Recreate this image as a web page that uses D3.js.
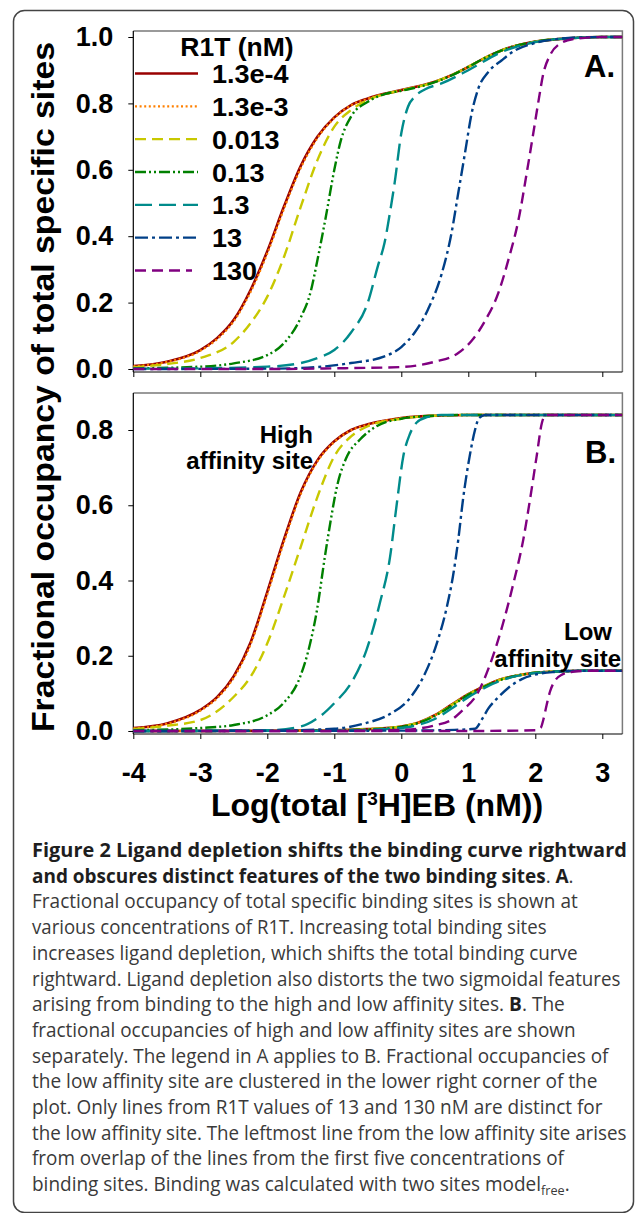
<!DOCTYPE html>
<html><head><meta charset="utf-8">
<script src="https://cdn.jsdelivr.net/npm/d3@7"></script>
<style>body{margin:0;background:#fff}svg{display:block}</style>
</head><body>
<svg id="chart" width="635" height="1213"></svg>
<script>
// ---------- DATA ----------
const seriesNames = ["1.3e-4","1.3e-3","0.013","0.13","1.3","13","130"];
const xTicks = [-4,-3,-2,-1,0,1,2,3];
const xTickLabels = ["-4","-3","-2","-1","0","1","2","3"];
const yTicksA = [0,0.2,0.4,0.6,0.8,1.0];
const yTicksB = [0,0.2,0.4,0.6,0.8];

// Panel A: total specific sites  [log(total EB), fraction]
const totR1 = [[-4,0.009],[-3.5,0.022],[-3,0.057],[-2.75,0.093],[-2.5,0.148],[-2.25,0.238],[-2,0.355],[-1.75,0.49],[-1.5,0.612],[-1.25,0.70],[-1,0.758],[-0.75,0.795],[-0.5,0.815],[0,0.84],[0.5,0.865],[0.75,0.885],[1,0.91],[1.25,0.937],[1.5,0.96],[2,0.986],[2.5,0.996],[3,1.0],[3.3,1.0]];
const totR2 = [[-4,0.008],[-3.5,0.021],[-3,0.055],[-2.75,0.09],[-2.5,0.144],[-2.25,0.232],[-2,0.348],[-1.75,0.483],[-1.5,0.606],[-1.25,0.696],[-1,0.756],[-0.75,0.794],[-0.5,0.814],[0,0.84],[0.5,0.865],[0.75,0.885],[1,0.91],[1.25,0.937],[1.5,0.96],[2,0.986],[2.5,0.996],[3,1.0],[3.3,1.0]];
const totR3 = [[-4,0.005],[-3.5,0.015],[-3,0.033],[-2.5,0.082],[-2.25,0.138],[-2,0.218],[-1.75,0.338],[-1.5,0.489],[-1.25,0.63],[-1,0.73],[-0.75,0.78],[-0.5,0.81],[-0.25,0.828],[0,0.839],[0.5,0.865],[0.75,0.885],[1,0.91],[1.25,0.937],[1.5,0.96],[2,0.986],[2.5,0.996],[3,1.0],[3.3,1.0]];
const totR4 = [[-4,0.002],[-3,0.007],[-2.5,0.017],[-2,0.042],[-1.75,0.078],[-1.5,0.155],[-1.35,0.235],[-1.25,0.33],[-1.125,0.46],[-1,0.60],[-0.9,0.69],[-0.75,0.76],[-0.5,0.805],[-0.25,0.828],[0,0.838],[0.5,0.864],[0.75,0.884],[1,0.91],[1.25,0.937],[1.5,0.96],[2,0.986],[2.5,0.996],[3,1.0],[3.3,1.0]];
const totR5 = [[-4,0.001],[-3,0.002],[-2,0.007],[-1.5,0.018],[-1.25,0.033],[-1,0.057],[-0.75,0.11],[-0.5,0.2],[-0.35,0.31],[-0.25,0.38],[-0.17,0.47],[-0.1,0.56],[0,0.71],[0.1,0.79],[0.2,0.82],[0.35,0.842],[0.6,0.86],[1,0.9],[1.5,0.955],[2,0.985],[2.5,0.996],[3,1.0],[3.3,1.0]];
const totR6 = [[-4,0],[-2,0.001],[-1.5,0.003],[-0.75,0.018],[-0.25,0.038],[0,0.066],[0.2,0.11],[0.4,0.18],[0.6,0.285],[0.75,0.41],[0.85,0.53],[0.95,0.65],[1.05,0.77],[1.15,0.845],[1.3,0.895],[1.5,0.93],[1.7,0.96],[2,0.982],[2.3,0.993],[2.7,0.999],[3.3,1.0]];
const totR7 = [[-4,0],[-2,0],[-1,0.002],[0,0.006],[0.5,0.022],[0.85,0.048],[1.05,0.085],[1.25,0.145],[1.45,0.23],[1.6,0.33],[1.75,0.45],[1.88,0.6],[1.97,0.71],[2.05,0.81],[2.12,0.89],[2.22,0.945],[2.37,0.98],[2.57,0.994],[3,1.0],[3.3,1.0]];

// Panel B: high affinity site
const highR1 = [[-4,0.008],[-3.5,0.02],[-3,0.056],[-2.75,0.09],[-2.5,0.146],[-2.25,0.235],[-2,0.37],[-1.75,0.51],[-1.5,0.635],[-1.25,0.72],[-1,0.77],[-0.75,0.80],[-0.5,0.815],[0,0.832],[0.5,0.838],[1,0.84],[3.3,0.84]];
const highR2 = [[-4,0.007],[-3.5,0.019],[-3,0.054],[-2.75,0.087],[-2.5,0.142],[-2.25,0.23],[-2,0.363],[-1.75,0.503],[-1.5,0.63],[-1.25,0.717],[-1,0.768],[-0.75,0.799],[-0.5,0.814],[0,0.832],[0.5,0.838],[1,0.84],[3.3,0.84]];
const highR3 = [[-4,0.005],[-3.5,0.014],[-3,0.029],[-2.5,0.091],[-2.25,0.144],[-2,0.233],[-1.75,0.357],[-1.5,0.49],[-1.25,0.623],[-1,0.73],[-0.75,0.783],[-0.5,0.81],[0,0.83],[0.5,0.838],[1,0.84],[3.3,0.84]];
const highR4 = [[-4,0.002],[-3,0.008],[-2.5,0.016],[-2,0.042],[-1.76,0.074],[-1.51,0.144],[-1.36,0.233],[-1.26,0.32],[-1.14,0.464],[-1.06,0.553],[-0.96,0.65],[-0.81,0.73],[-0.62,0.774],[-0.37,0.81],[0,0.83],[0.5,0.838],[1,0.84],[3.3,0.84]];
const highR5 = [[-4,0],[-2,0.002],[-1.5,0.012],[-1.25,0.034],[-1,0.074],[-0.75,0.127],[-0.52,0.215],[-0.32,0.34],[-0.17,0.46],[-0.07,0.6],[0.03,0.73],[0.13,0.79],[0.23,0.82],[0.38,0.834],[0.6,0.84],[3.3,0.84]];
const highR6 = [[-4,0],[-2,0.001],[-1,0.006],[-0.55,0.02],[-0.17,0.045],[0.14,0.09],[0.33,0.144],[0.53,0.233],[0.68,0.33],[0.77,0.41],[0.85,0.508],[0.92,0.614],[1.02,0.73],[1.1,0.8],[1.16,0.832],[1.25,0.84],[3.3,0.84]];
const highR7 = [[-4,0],[-1,0],[0,0.003],[0.5,0.015],[0.75,0.03],[0.92,0.056],[1.12,0.095],[1.32,0.175],[1.52,0.287],[1.67,0.39],[1.82,0.508],[1.92,0.614],[2.02,0.73],[2.1,0.82],[2.16,0.84],[3.3,0.84]];

// Panel B: low affinity site
const lowR1 = [[-4,0],[-2,0.0005],[-1,0.002],[-0.5,0.005],[0,0.012],[0.25,0.022],[0.5,0.042],[0.75,0.07],[1,0.098],[1.25,0.12],[1.5,0.138],[1.75,0.148],[2,0.155],[2.3,0.158],[2.7,0.16],[3.3,0.16]];
const lowR2 = [[-4,0],[-2,0.0005],[-1,0.002],[-0.5,0.005],[0,0.012],[0.25,0.022],[0.5,0.042],[0.75,0.07],[1,0.098],[1.25,0.12],[1.5,0.138],[1.75,0.148],[2,0.155],[2.3,0.158],[2.7,0.16],[3.3,0.16]];
const lowR3 = [[-4,0],[-2,0.0005],[-1,0.002],[-0.5,0.005],[0,0.012],[0.25,0.022],[0.5,0.041],[0.75,0.069],[1,0.097],[1.25,0.12],[1.5,0.138],[1.75,0.148],[2,0.155],[2.3,0.158],[2.7,0.16],[3.3,0.16]];
const lowR4 = [[-4,0],[-2,0.0004],[-1,0.002],[-0.5,0.004],[0,0.011],[0.25,0.021],[0.5,0.04],[0.75,0.067],[1,0.096],[1.25,0.119],[1.5,0.137],[1.75,0.148],[2,0.155],[2.3,0.158],[2.7,0.16],[3.3,0.16]];
const lowR5 = [[-4,0],[-1,0.001],[0,0.008],[0.25,0.016],[0.5,0.032],[0.75,0.06],[1,0.09],[1.25,0.115],[1.5,0.135],[1.75,0.147],[2,0.154],[2.3,0.158],[2.7,0.16],[3.3,0.16]];
const lowR6 = [[-4,0],[0,0.001],[0.8,0.003],[1.1,0.006],[1.2,0.03],[1.3,0.06],[1.45,0.09],[1.6,0.115],[1.8,0.138],[2,0.15],[2.3,0.157],[2.7,0.16],[3.3,0.16]];
const lowR7 = [[-4,0],[1,0],[2,0.002],[2.08,0.008],[2.12,0.03],[2.17,0.07],[2.22,0.105],[2.3,0.135],[2.4,0.15],[2.55,0.157],[2.8,0.16],[3.3,0.16]];

const captionLines = [
  [["b","Figure 2 Ligand depletion shifts the binding curve rightward"]],
  [["b","and obscures distinct features of the two binding sites"],["n",". "],["b","A"],["n","."]],
  [["n","Fractional occupancy of total specific binding sites is shown at"]],
  [["n","various concentrations of R1T. Increasing total binding sites"]],
  [["n","increases ligand depletion, which shifts the total binding curve"]],
  [["n","rightward. Ligand depletion also distorts the two sigmoidal features"]],
  [["n","arising from binding to the high and low affinity sites. "],["b","B"],["n",". The"]],
  [["n","fractional occupancies of high and low affinity sites are shown"]],
  [["n","separately. The legend in A applies to B. Fractional occupancies of"]],
  [["n","the low affinity site are clustered in the lower right corner of the"]],
  [["n","plot. Only lines from R1T values of 13 and 130 nM are distinct for"]],
  [["n","the low affinity site. The leftmost line from the low affinity site arises"]],
  [["n","from overlap of the lines from the first five concentrations of"]],
  [["n","binding sites. Binding was calculated with two sites model"],["s","free"],["e","."]]
];
const captionRight = [627,574,578,547,578,621,565,576,609,598,603,627,564,570];

// ---------- STYLES ----------
const colors = ["#990000","#ff8000","#c8c800","#008000","#008b8b","#003f87","#800080"];
const dashes = [null,"2,2.6","11,6","11,3,2,3,2,3","17,7","13,4,3,4","11,6"];
const widths = [2.6,2.2,2.4,2.4,2.4,2.4,2.4];
const totals = [totR1,totR2,totR3,totR4,totR5,totR6,totR7];
const highs = [highR1,highR2,highR3,highR4,highR5,highR6,highR7];
const lows = [lowR1,lowR2,lowR3,lowR4,lowR5,lowR6,lowR7];

const svg = d3.select("#chart");
const FONT = "'Liberation Sans', Arial, Helvetica, sans-serif";

// outer frame
svg.append("rect").attr("x",13.5).attr("y",10.5).attr("width",620).attr("height",1202)
  .attr("rx",11).attr("fill","none").attr("stroke","#444").attr("stroke-width",1.5);

const x = d3.scaleLinear().domain([-4,3.3]).range([133.3,622.4]);
const yA = d3.scaleLinear().domain([0,1]).range([369,37]);
const yB = d3.scaleLinear().domain([0,0.8]).range([731,430]);

function panel(id, y, top, bottom, yTicks, showXLabels) {
  const g = svg.append("g");
  g.append("clipPath").attr("id",id).append("rect")
    .attr("x",x.range()[0]).attr("y",top).attr("width",x.range()[1]-x.range()[0]).attr("height",bottom-top);
  g.append("path").attr("d",`M${x.range()[0]},${top}H${x.range()[1]}V${bottom}`)
    .attr("fill","none").attr("stroke","#7a7a7a").attr("stroke-width",1.5);
  const ax = g.append("g").attr("transform",`translate(${x.range()[0]},0)`)
    .call(d3.axisLeft(y).tickValues(yTicks).tickSize(5).tickPadding(15).tickFormat(d3.format(".1f")));
  ax.select(".domain").remove();
  ax.append("line").attr("x1",0).attr("x2",0).attr("y1",top).attr("y2",bottom).attr("stroke","#000").attr("stroke-width",1.2);
  ax.selectAll("text").attr("font-family",FONT).attr("font-weight","bold").attr("font-size",27).attr("fill","#000");
  const bx = g.append("g").attr("transform",`translate(0,${bottom})`)
    .call(d3.axisBottom(x).tickValues(xTicks).tickSize(5).tickPadding(24)
      .tickFormat((d,i) => showXLabels ? xTickLabels[i] : ""));
  bx.select(".domain").remove();
  bx.append("line").attr("x1",x.range()[0]).attr("x2",x.range()[1]).attr("y1",0).attr("y2",0).attr("stroke","#000").attr("stroke-width",1.2);
  bx.selectAll("text").attr("font-family",FONT).attr("font-weight","bold").attr("font-size",27).attr("fill","#000");
  if (!showXLabels) bx.selectAll("text").remove();
  return g.append("g").attr("clip-path",`url(#${id})`);
}

function drawSeries(layer, data, y, i) {
  const line = d3.line().x(d=>x(d[0])).y(d=>y(d[1])).curve(d3.curveMonotoneX);
  layer.append("path").attr("d",line(data)).attr("fill","none")
    .attr("stroke",colors[i]).attr("stroke-width",widths[i])
    .attr("stroke-dasharray",dashes[i]).attr("stroke-linecap","butt");
}

const layerA = panel("clipA", yA, 31, 372, yTicksA, false);
totals.forEach((d,i)=>drawSeries(layerA,d,yA,i));

const layerB = panel("clipB", yB, 393, 734, yTicksB, true);
lows.forEach((d,i)=>drawSeries(layerB,d,yB,i));
highs.forEach((d,i)=>drawSeries(layerB,d,yB,i));

function label(x0,y0,txt,size,anchor,sx) {
  return svg.append("text").attr("transform",`translate(${x0},${y0}) scale(${sx||1},1)`)
    .attr("text-anchor",anchor).attr("font-family",FONT).attr("font-weight","bold")
    .attr("font-size",size).attr("fill","#000").text(txt);
}

// legend
label(237,56,"R1T (nM)",26,"middle",1.02);
const legendY = d3.scaleLinear().domain([0,6]).range([73.5,270.5]);
seriesNames.forEach((n,i)=>{
  const yy = legendY(i);
  svg.append("line").attr("x1",135).attr("x2",i===6?192:198).attr("y1",yy).attr("y2",yy)
    .attr("stroke",colors[i]).attr("stroke-width",widths[i]).attr("stroke-dasharray",dashes[i]);
  label(212,yy+9.5,n,26,"start",1.04);
});

// panel labels
label(584,77,"A.",31,"start",1);
label(585,463,"B.",31,"start",1);
label(313,443,"High",24,"end",1);
label(313,469,"affinity site",24,"end",1);
label(612,640,"Low",24,"end",1);
label(621,667,"affinity site",24,"end",1);

// axis titles
svg.append("text").attr("transform","translate(54,387) rotate(-90)")
  .attr("text-anchor","middle").attr("font-family",FONT).attr("font-weight","bold")
  .attr("font-size",32).attr("textLength",690).attr("lengthAdjust","spacingAndGlyphs")
  .text("Fractional occupancy of total specific sites");
const xt = svg.append("text").attr("x",377).attr("y",816).attr("text-anchor","middle")
  .attr("font-family",FONT).attr("font-weight","bold").attr("font-size",32);
xt.append("tspan").text("Log(total [");
xt.append("tspan").attr("font-size",19).attr("dy",-11).text("3");
xt.append("tspan").attr("dy",11).text("H]EB (nM))");

// caption (each line horizontally condensed to the reference width)
const capFont = "'Open Sans', 'Noto Sans', sans-serif";
captionLines.forEach((parts,i)=>{
  const y0 = 857 + i*25.7;
  const t = svg.append("text").attr("font-family",capFont).attr("font-size",19.5);
  parts.forEach(p=>{
    const s = t.append("tspan").text(p[1]);
    if (p[0]==="b") s.attr("font-weight","bold").attr("fill","#1e1e1e");
    else if (p[0]==="s") s.attr("font-size",13).attr("dy",4).attr("fill","#3a3a3a");
    else if (p[0]==="e") s.attr("dy",-4).attr("fill","#3a3a3a");
    else s.attr("fill","#3a3a3a");
  });
  const natural = t.node().getComputedTextLength();
  const sx = (captionRight[i]-32)/natural;
  t.attr("transform",`translate(32,${y0}) scale(${sx},1)`);
});
</script>
</body></html>
